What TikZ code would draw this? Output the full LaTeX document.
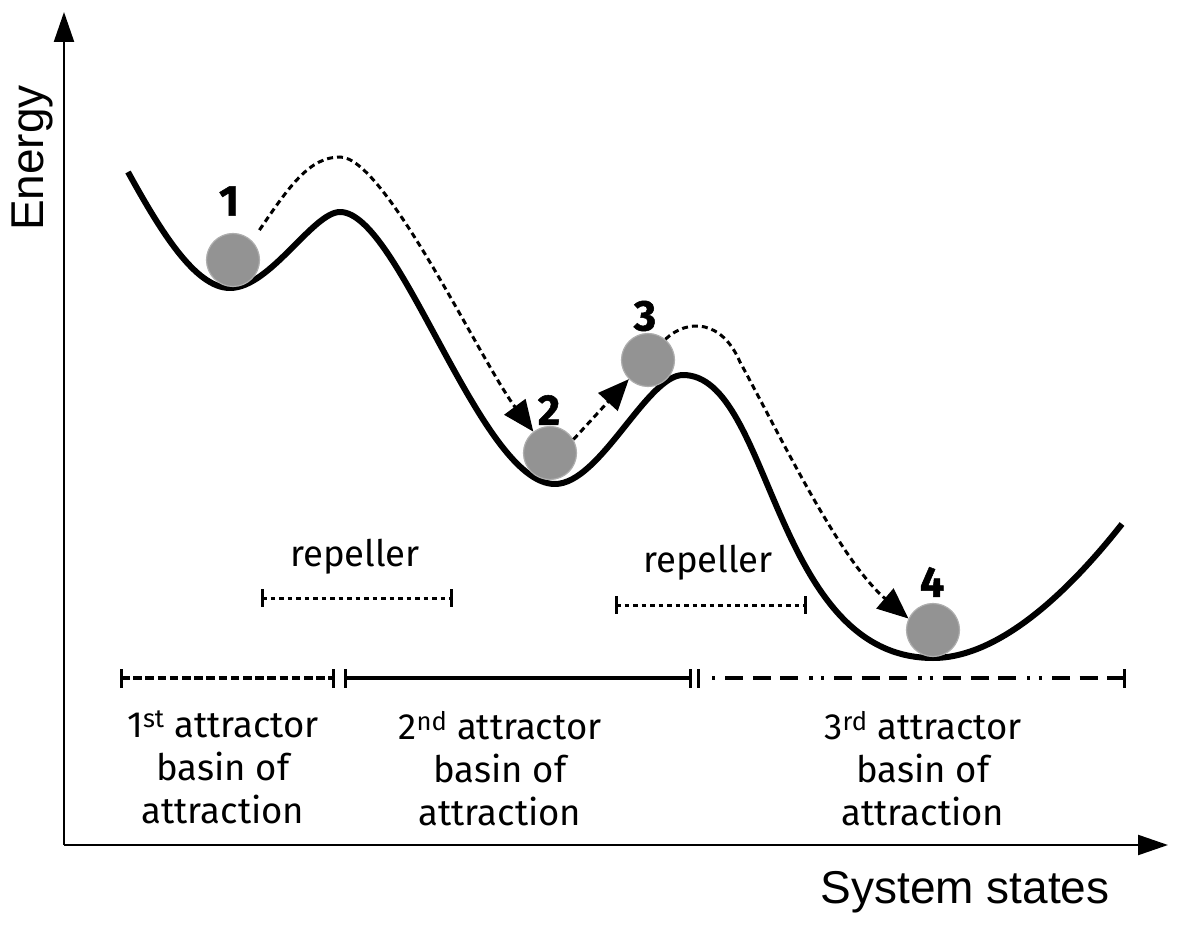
\documentclass[tikz,border=0pt]{standalone}
\usepackage{fontspec}
\setmainfont{Fira Sans}
\newfontfamily\arialf{Liberation Sans}
\newfontfamily\numf[UprightFont=* Bold, FakeBold=1.2]{Fira Sans}
\usetikzlibrary{arrows.meta}
\definecolor{ballgray}{HTML}{939393}
\begin{document}
\begin{tikzpicture}[x=1pt,y=-1pt,
  curve/.style={line width=6pt, line join=round},
  axis/.style={line width=2.3pt, -{Triangle[length=30pt,width=20pt]}},
  flow/.style={line width=3pt, dash pattern=on 6pt off 4pt, -{Triangle[length=31pt,width=26pt]}},
  ball/.style={circle, minimum size=53pt, inner sep=0pt, fill=ballgray, draw=ballgray!75!white, line width=1.2pt},
  num/.style={font=\numf\fontsize{43}{43}\selectfont, inner sep=0pt},
  lab/.style={font=\fontsize{36.5}{43}\selectfont, align=center, inner sep=0pt},
  axlab/.style={font=\arialf\fontsize{46}{46}\selectfont, inner sep=0pt},
  basinbar/.style={line width=3.3pt},
  tickmark/.style={line width=3pt},
  repbar/.style={line width=3pt, dash pattern=on 4.5pt off 4pt}
]
\useasboundingbox (0,0) rectangle (1181,925);

% axes
\coordinate (O) at (64,845);
\coordinate (ytip) at (64,12);
\coordinate (xtip) at (1168,845);
\draw[axis] (O) -- (ytip);
\draw[axis] (O) -- (xtip);
\node[axlab, rotate=90, anchor=base] (ylab) at (43,158) {Energy};
\node[axlab, anchor=base] (xlab) at (965,903) {System states};

% energy landscape
\draw[curve] (128,172) .. controls (160,230) and (195,288) .. (230,288)
  .. controls (270,288) and (313,212) .. (340,212)
  .. controls (400,212) and (480,484) .. (555,484)
  .. controls (600,484) and (647,375) .. (683,375)
  .. controls (772,375) and (772,658) .. (933,658)
  .. controls (1000,658) and (1070,590) .. (1122,524);

% balls
\node[ball] (b1) at (233,260) {};
\node[ball] (b2) at (550,453) {};
\node[ball] (b3) at (648,360) {};
\node[ball] (b4) at (933,630) {};
\node[num] (n1) at (229,201) {1};
\node[num] (n2) at (549,410) {2};
\node[num] (n3) at (645,316) {3};
\node[num] (n4) at (932,582) {4};

% transitions
\draw[flow, shorten <=13pt] (b1.45) .. controls (290,185) and (310,157) .. (340,157)
  .. controls (385,157) and (480,360) .. (b2.128);
\draw[flow] (b2.30) -- (b3.225);
\draw[flow] (b3.50) .. controls (688,318) and (722,320) .. (740,362)
  .. controls (785,445) and (840,560) .. (b4.155);

% repellers
\node[lab, anchor=base] (r1) at (355,566) {repeller};
\node[lab, anchor=base] (r2) at (708,572) {repeller};
\draw[repbar] (262,598) -- (451,598);
\draw[tickmark] (262,589) -- (262,607);
\draw[tickmark] (451,589) -- (451,607);
\draw[repbar] (616,605) -- (805,605);
\draw[tickmark] (616,596) -- (616,614);
\draw[tickmark] (805,596) -- (805,614);

% basins
\draw[basinbar, dash pattern=on 8.5pt off 3.7pt] (121,678) -- (333,678);
\draw[tickmark] (121,669) -- (121,688);
\draw[tickmark] (333,669) -- (333,688);
\draw[basinbar] (345,678) -- (690,678);
\draw[tickmark] (345,669) -- (345,688);
\draw[tickmark] (690,669) -- (690,688);
\draw[basinbar, dash pattern=on 3.3pt off 10pt on 18pt off 9.5pt on 18pt off 9.5pt on 18pt off 11pt on 3.3pt off 8.3pt] (712,678) -- (1124,678);
\draw[tickmark] (698,669) -- (698,688);
\draw[tickmark] (1124,669) -- (1124,688);

\node[lab, anchor=north] (a1) at (223,711) {1\textsuperscript{st} attractor\\basin of\\attraction};
\node[lab, anchor=north] (a2) at (500,711) {2\textsuperscript{nd} attractor\\basin of\\attraction};
\node[lab, anchor=north] (a3) at (923,711) {3\textsuperscript{rd} attractor\\basin of\\attraction};
\end{tikzpicture}
\end{document}
